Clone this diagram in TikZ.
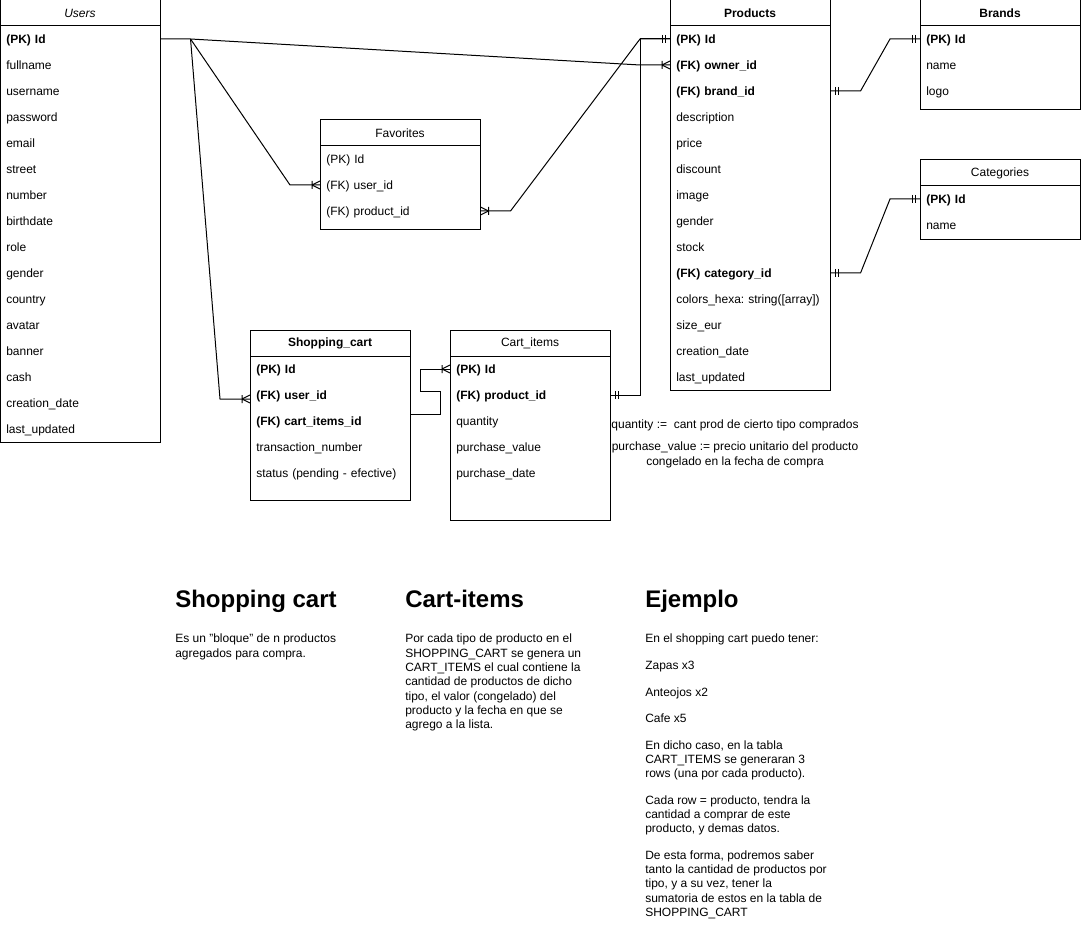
\documentclass[tikz,border=0pt]{standalone}
\usepackage{fontspec}
\setmainfont{Liberation Sans}
\usepackage{tikz}
\usetikzlibrary{calc}

\newcommand{\rowfont}{\fontsize{9}{10.7}\selectfont\frenchspacing}

\tikzset{
  tbl/.style={draw, line width=0.75pt},
  conn/.style={line width=0.75pt},
  head/.style={font=\rowfont, inner sep=0pt},
  row/.style={anchor=west, font=\rowfont, inner xsep=4.5pt, inner ysep=0pt,
    text width=111pt, align=left, execute at begin node={\rule[-1.5pt]{0pt}{9.5pt}}},
  note/.style={font=\rowfont, align=center, inner sep=0pt},
  heading/.style={anchor=base west, font=\fontsize{18}{22}\selectfont\bfseries, inner sep=0pt},
  para/.style={anchor=north west, font=\rowfont, align=left, inner sep=0pt},
  crowW/.pic={\draw[conn] (-8,-4) -- (-8,4) (-8,0) -- (0,-4) (-8,0) -- (0,4);},
  crowE/.pic={\draw[conn] (8,-4) -- (8,4) (8,0) -- (0,-4) (8,0) -- (0,4);},
  barsW/.pic={\draw[conn] (-8,-4) -- (-8,4) (-5,-4) -- (-5,4);},
  barsE/.pic={\draw[conn] (8,-4) -- (8,4) (5,-4) -- (5,4);}
}

\begin{document}
\begin{tikzpicture}[x=0.75pt, y=-0.75pt]
\useasboundingbox (0,0) rectangle (1081,941);

% Users
\draw[tbl] (0,0) rectangle (160,442) (0,26) -- (160,26);
\node[head] (users) at (80,13) {\itshape Users};
\foreach \t [count=\i] in {{\bfseries (PK) Id},fullname,username,password,email,
    street,number,birthdate,role,gender,country,avatar,banner,cash,
    creation\_date,last\_updated}
  \node[row] (users-\i) at (0,13+26*\i) {\t};

% Products
\draw[tbl] (670,0) rectangle (830,390) (670,26) -- (830,26);
\node[head] (prod) at (750,13) {\bfseries Products};
\foreach \t [count=\i] in {{\bfseries (PK) Id},{\bfseries (FK) owner\_id},
    {\bfseries (FK) brand\_id},description,price,discount,image,gender,stock,
    {\bfseries (FK) category\_id},{colors\_hexa: string([array])},size\_eur,
    creation\_date,last\_updated}
  \node[row] (prod-\i) at (670,13+26*\i) {\t};

% Brands
\draw[tbl] (920,0) rectangle (1080,110) (920,26) -- (1080,26);
\node[head] (brand) at (1000,13) {\bfseries Brands};
\foreach \t [count=\i] in {{\bfseries (PK) Id},name,logo}
  \node[row] (brand-\i) at (920,13+26*\i) {\t};

% Categories
\draw[tbl] (920,160) rectangle (1080,240) (920,186) -- (1080,186);
\node[head] (cat) at (1000,173) {Categories};
\foreach \t [count=\i] in {{\bfseries (PK) Id},name}
  \node[row] (cat-\i) at (920,173+26*\i) {\t};

% Favorites
\draw[tbl] (320,120) rectangle (480,230) (320,146) -- (480,146);
\node[head] (fav) at (400,133) {Favorites};
\foreach \t [count=\i] in {(PK) Id,(FK) user\_id,(FK) product\_id}
  \node[row] (fav-\i) at (320,133+26*\i) {\t};

% Shopping_cart
\draw[tbl] (250,330) rectangle (410,500) (250,356) -- (410,356);
\node[head] (sc) at (330,343) {\bfseries Shopping\_cart};
\foreach \t [count=\i] in {{\bfseries (PK) Id},{\bfseries (FK) user\_id},
    {\bfseries (FK) cart\_items\_id},transaction\_number,status (pending - efective)}
  \node[row] (sc-\i) at (250,343+26*\i) {\t};

% Cart_items
\draw[tbl] (450,330) rectangle (610,520) (450,356) -- (610,356);
\node[head] (ci) at (530,343) {Cart\_items};
\foreach \t [count=\i] in {{\bfseries (PK) Id},{\bfseries (FK) product\_id},
    quantity,purchase\_value,purchase\_date}
  \node[row] (ci-\i) at (450,343+26*\i) {\t};

% relations
\draw[conn] (users-1.east) -- ++(30,0) coordinate (fan)
  -- ($(prod-2.west)+(-30,0)$) -- (prod-2.west);
\draw[conn] (fan) -- ($(fav-2.west)+(-30,0)$) -- (fav-2.west);
\draw[conn] (fan) -- ($(sc-2.west)+(-30,4)$) -- ($(sc-2.west)+(0,4)$);
\draw[conn] (fav-3.east) -- ++(30,0) -- ($(prod-1.west)+(-30,0)$) -- (prod-1.west);
\draw[conn] (ci-2.east) -- ++(30,0) |- (prod-1.west);
\draw[conn] (prod-3.east) -- ++(30,0) -- ($(brand-1.west)+(-30,0)$) -- (brand-1.west);
\draw[conn] (prod-10.east) -- ++(30,0) -- ($(cat-1.west)+(-30,0)$) -- (cat-1.west);
\draw[conn] ($(sc-3.east)+(0,-7)$) -- ++(30,0) -- ++(0,-23) -- ++(-20,0) |- (ci-1.west);

\pic at (prod-2.west) {crowW};
\pic at (fav-2.west) {crowW};
\pic at ($(sc-2.west)+(0,4)$) {crowW};
\pic at (ci-1.west) {crowW};
\pic at (fav-3.east) {crowE};
\pic at (prod-1.west) {barsW};
\pic at (ci-2.east) {barsE};
\pic at (prod-3.east) {barsE};
\pic at (prod-10.east) {barsE};
\pic at (brand-1.west) {barsW};
\pic at (cat-1.west) {barsW};

% notes
\node[note] (note1) at (735,425) {quantity :=\ \ cant prod de cierto tipo comprados};
\node[note] (note2) at (735,455) {purchase\_value := precio unitario del producto\\
  congelado en la fecha de compra};

% explanations
\node[heading] (sc-title) at (175,607) {Shopping cart};
\node[para] (sc-text) at (175,634) {Es un "bloque" de n productos\\
  agregados para compra.};

\node[heading] (ci-title) at (405,607) {Cart-items};
\node[para] (ci-text) at (405,634) {Por cada tipo de producto en el\\
  SHOPPING\_CART se genera un\\
  CART\_ITEMS el cual contiene la\\
  cantidad de productos de dicho\\
  tipo, el valor (congelado) del\\
  producto y la fecha en que se\\
  agrego a la lista.};

\node[heading] (ex-title) at (645,607) {Ejemplo};
\node[para] (ex-text) at (645,634) {En el shopping cart puedo tener:\\[9.2pt]
  Zapas x3\\[9.2pt]
  Anteojos x2\\[9.2pt]
  Cafe x5\\[9.2pt]
  En dicho caso, en la tabla\\
  CART\_ITEMS se generaran 3\\
  rows (una por cada producto).\\[9.2pt]
  Cada row = producto, tendra la\\
  cantidad a comprar de este\\
  producto, y demas datos.\\[9.2pt]
  De esta forma, podremos saber\\
  tanto la cantidad de productos por\\
  tipo, y a su vez, tener la\\
  sumatoria de estos en la tabla de\\
  SHOPPING\_CART};
\end{tikzpicture}
\end{document}
